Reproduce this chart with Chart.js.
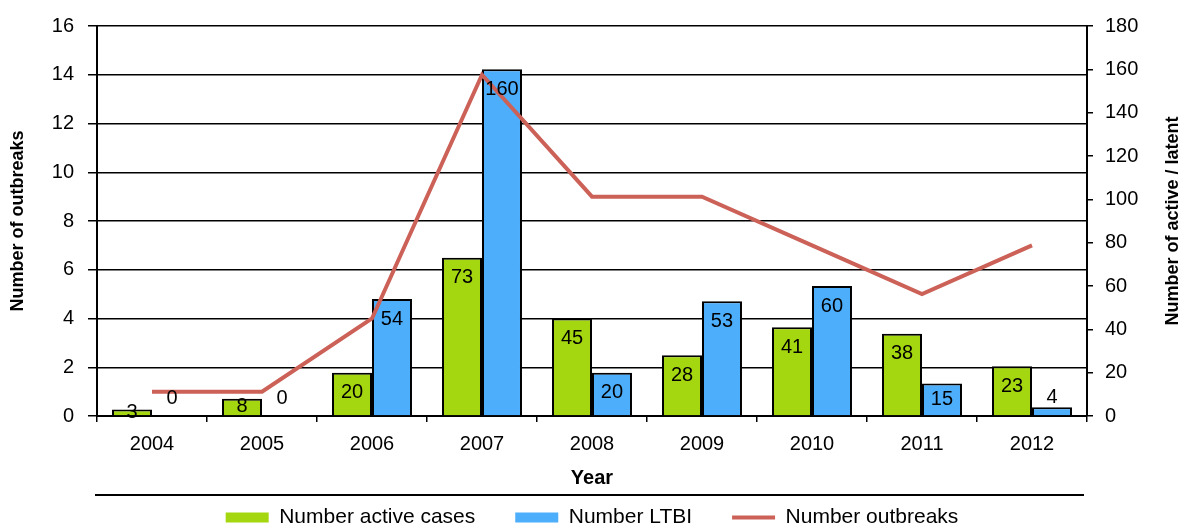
<!DOCTYPE html>
<html>
<head>
<meta charset="utf-8">
<script src="https://cdn.jsdelivr.net/npm/chart.js@4.4.0/dist/chart.umd.min.js"></script>
<style>
    html, body { margin: 0; padding: 0; background: #fff; }
    #wrap { width: 1184px; height: 530px; position: relative; }
</style>
</head>
<body>
<div id="wrap"><canvas id="chart"></canvas></div>
<script>
// data
const years = ['2004', '2005', '2006', '2007', '2008', '2009', '2010', '2011', '2012'];
const activeCases = [3, 8, 20, 73, 45, 28, 41, 38, 23];
const ltbiCases = [0, 0, 54, 160, 20, 53, 60, 15, 4];
const outbreaks = [1, 1, 4, 14, 9, 9, 7, 5, 7];

const FONT = '"Liberation Sans", Arial, sans-serif';
const GREEN = '#a4d70f';
const BLUE = '#4daefc';
const RED = '#cc6158';

// labels on the bars (Excel "inside end")
const barLabels = {
    id: 'barLabels',
    afterDatasetsDraw(chart) {
        const ctx = chart.ctx;
        ctx.save();
        ctx.font = '20px ' + FONT;
        ctx.fillStyle = '#000';
        ctx.textAlign = 'center';
        ctx.textBaseline = 'middle';
        [0, 1].forEach(di => {
            const meta = chart.getDatasetMeta(di);
            meta.data.forEach((bar, i) => {
                const value = chart.data.datasets[di].data[i];
                const h = bar.base - bar.y;
                let y;
                if (di === 1 && h < 10) {
                    y = Math.min(bar.y - 9, bar.base - 18);
                } else {
                    y = bar.y + Math.min(20, h / 2);
                }
                ctx.fillText(String(value), bar.x, y);
            });
        });
        ctx.restore();
    }
};

// axis titles and the rule above the legend
const decorations = {
    id: 'decorations',
    afterDraw(chart) {
        const ctx = chart.ctx;
        const area = chart.chartArea;
        const midY = (area.top + area.bottom) / 2;
        ctx.save();
        ctx.fillStyle = '#000';
        ctx.textAlign = 'center';
        ctx.textBaseline = 'middle';
        ctx.font = 'bold 18px ' + FONT;

        ctx.save();
        ctx.translate(18, midY);
        ctx.rotate(-Math.PI / 2);
        ctx.fillText('Number of outbreaks', 0, 0);
        ctx.restore();

        ctx.save();
        ctx.translate(chart.width - 11, midY);
        ctx.rotate(-Math.PI / 2);
        ctx.fillText('Number of active / latent', 0, 0);
        ctx.restore();

        ctx.font = 'bold 20px ' + FONT;
        ctx.fillText('Year', (area.left + area.right) / 2, 478);

        ctx.strokeStyle = '#000';
        ctx.lineWidth = 2;
        ctx.beginPath();
        ctx.moveTo(area.left - 2, 495);
        ctx.lineTo(area.right - 3, 495);
        ctx.stroke();
        ctx.restore();
    }
};

new Chart(document.getElementById('chart'), {
    type: 'bar',
    data: {
        labels: years,
        datasets: [
            {
                label: 'Number active cases',
                data: activeCases,
                backgroundColor: GREEN,
                borderColor: '#000',
                borderWidth: 2,
                yAxisID: 'y1',
                order: 1,
                categoryPercentage: 0.727,
                barPercentage: 1.0
            },
            {
                label: 'Number LTBI',
                data: ltbiCases,
                backgroundColor: BLUE,
                borderColor: '#000',
                borderWidth: 2,
                yAxisID: 'y1',
                order: 1,
                categoryPercentage: 0.727,
                barPercentage: 1.0
            },
            {
                type: 'line',
                label: 'Number outbreaks',
                data: outbreaks,
                borderColor: RED,
                backgroundColor: RED,
                borderWidth: 4,
                pointRadius: 0,
                tension: 0,
                yAxisID: 'y',
                order: 0
            }
        ]
    },
    options: {
        responsive: true,
        maintainAspectRatio: false,
        animation: false,
        layout: { padding: { top: 18, bottom: -8, left: 0, right: 0 } },
        plugins: {
            tooltip: { enabled: false },
            legend: {
                position: 'bottom',
                labels: {
                    font: { family: FONT, size: 21 },
                    color: '#000',
                    usePointStyle: true,
                    pointStyleWidth: 43,
                    boxWidth: 43,
                    boxHeight: 10,
                    padding: 40,
                    generateLabels(chart) {
                        return chart.data.datasets.map((ds, i) => ({
                            text: ds.label,
                            fillStyle: ds.type === 'line' ? ds.borderColor : ds.backgroundColor,
                            strokeStyle: ds.type === 'line' ? ds.borderColor : ds.backgroundColor,
                            lineWidth: ds.type === 'line' ? 4 : 0,
                            pointStyle: ds.type === 'line' ? 'line' : 'rect',
                            hidden: false,
                            datasetIndex: i,
                            fontColor: '#000'
                        }));
                    }
                }
            }
        },
        scales: {
            x: {
                offset: true,
                grid: {
                    offset: true,
                    drawOnChartArea: false,
                    color: '#000',
                    lineWidth: 1.5,
                    tickLength: 6
                },
                border: { color: '#000', width: 2 },
                ticks: { color: '#000', font: { family: FONT, size: 20 }, padding: 10 },
                afterFit(scale) {
                    scale.height = 51;
                }
            },
            y: {
                position: 'left',
                min: 0,
                max: 16,
                ticks: { stepSize: 2, color: '#000', font: { family: FONT, size: 20 }, padding: 14 },
                grid: { color: '#000', lineWidth: 1.5, tickLength: 9 },
                border: { color: '#000', width: 2 },
                afterFit(scale) {
                    scale.width = 97;
                }
            },
            y1: {
                position: 'right',
                min: 0,
                max: 180,
                ticks: { stepSize: 20, color: '#000', font: { family: FONT, size: 20 }, padding: 12 },
                grid: { drawOnChartArea: false, color: '#000', lineWidth: 1.5, tickLength: 6 },
                border: { color: '#000', width: 2 },
                afterFit(scale) {
                    scale.width = 97;
                }
            }
        }
    },
    plugins: [barLabels, decorations]
});
</script>
</body>
</html>
